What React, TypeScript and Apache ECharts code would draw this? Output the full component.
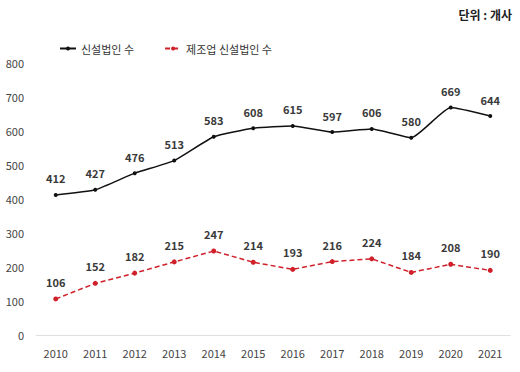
import React, { useEffect, useRef } from "react";
import * as echarts from "echarts";

const years = ["2010","2011","2012","2013","2014","2015","2016","2017","2018","2019","2020","2021"];
const newCorps = [412, 427, 476, 513, 583, 608, 615, 597, 606, 580, 669, 644];
const mfgNewCorps = [106, 152, 182, 215, 247, 214, 193, 216, 224, 184, 208, 190];
const seriesNames = ["신설법인 수", "제조업 신설법인 수"];
const unitText = "단위 : 개사";

export default function App() {
  const ref = useRef<HTMLDivElement>(null);
  useEffect(() => {
    const chart = echarts.init(ref.current!, null, { renderer: "svg" });
    const font = "'Noto Sans CJK KR', 'Noto Sans', sans-serif";
    chart.setOption({
      animation: false,
      backgroundColor: "#ffffff",
      textStyle: { fontFamily: font },
      graphic: [
        {
          type: "text",
          right: 8,
          top: 8,
          style: { text: unitText, font: `bold 12px ${font}`, fill: "#222" },
        },
      ],
      legend: {
        top: 38,
        left: 54,
        itemGap: 30,
        itemWidth: 16,
        itemHeight: 5,
        textStyle: { fontSize: 11, color: "#333", fontFamily: font },
        data: seriesNames,
      },
      grid: { left: 36, right: 10, top: 63, bottom: 37 },
      xAxis: {
        type: "category",
        data: years,
        boundaryGap: true,
        axisLine: { lineStyle: { color: "#e0e0e0" } },
        axisTick: { show: false },
        axisLabel: { color: "#444", fontSize: 11, margin: 12 },
      },
      yAxis: {
        type: "value",
        min: 0,
        max: 800,
        interval: 100,
        splitLine: { show: false },
        axisLine: { show: false },
        axisTick: { show: false },
        axisLabel: { color: "#444", fontSize: 11, margin: 12 },
      },
      series: [
        {
          name: seriesNames[0],
          type: "line",
          data: newCorps,
          smooth: 0.15,
          symbol: "circle",
          symbolSize: 4,
          color: "#111",
          lineStyle: { color: "#111", width: 1.5 },
          itemStyle: { color: "#111" },
          label: { show: true, position: "top", distance: 9, color: "#3a3a3a", fontSize: 11, fontWeight: "bold" },
        },
        {
          name: seriesNames[1],
          type: "line",
          data: mfgNewCorps,
          symbol: "circle",
          symbolSize: 5,
          color: "#d0202a",
          lineStyle: { color: "#d0202a", width: 1.5, type: [5, 3] },
          itemStyle: { color: "#d0202a" },
          label: { show: true, position: "top", distance: 9, color: "#3a3a3a", fontSize: 11, fontWeight: "bold" },
        },
      ],
    });
    return () => chart.dispose();
  }, []);
  return <div ref={ref} style={{ width: 520, height: 372, position: "fixed", left: 0, top: 0 }} />;
}
